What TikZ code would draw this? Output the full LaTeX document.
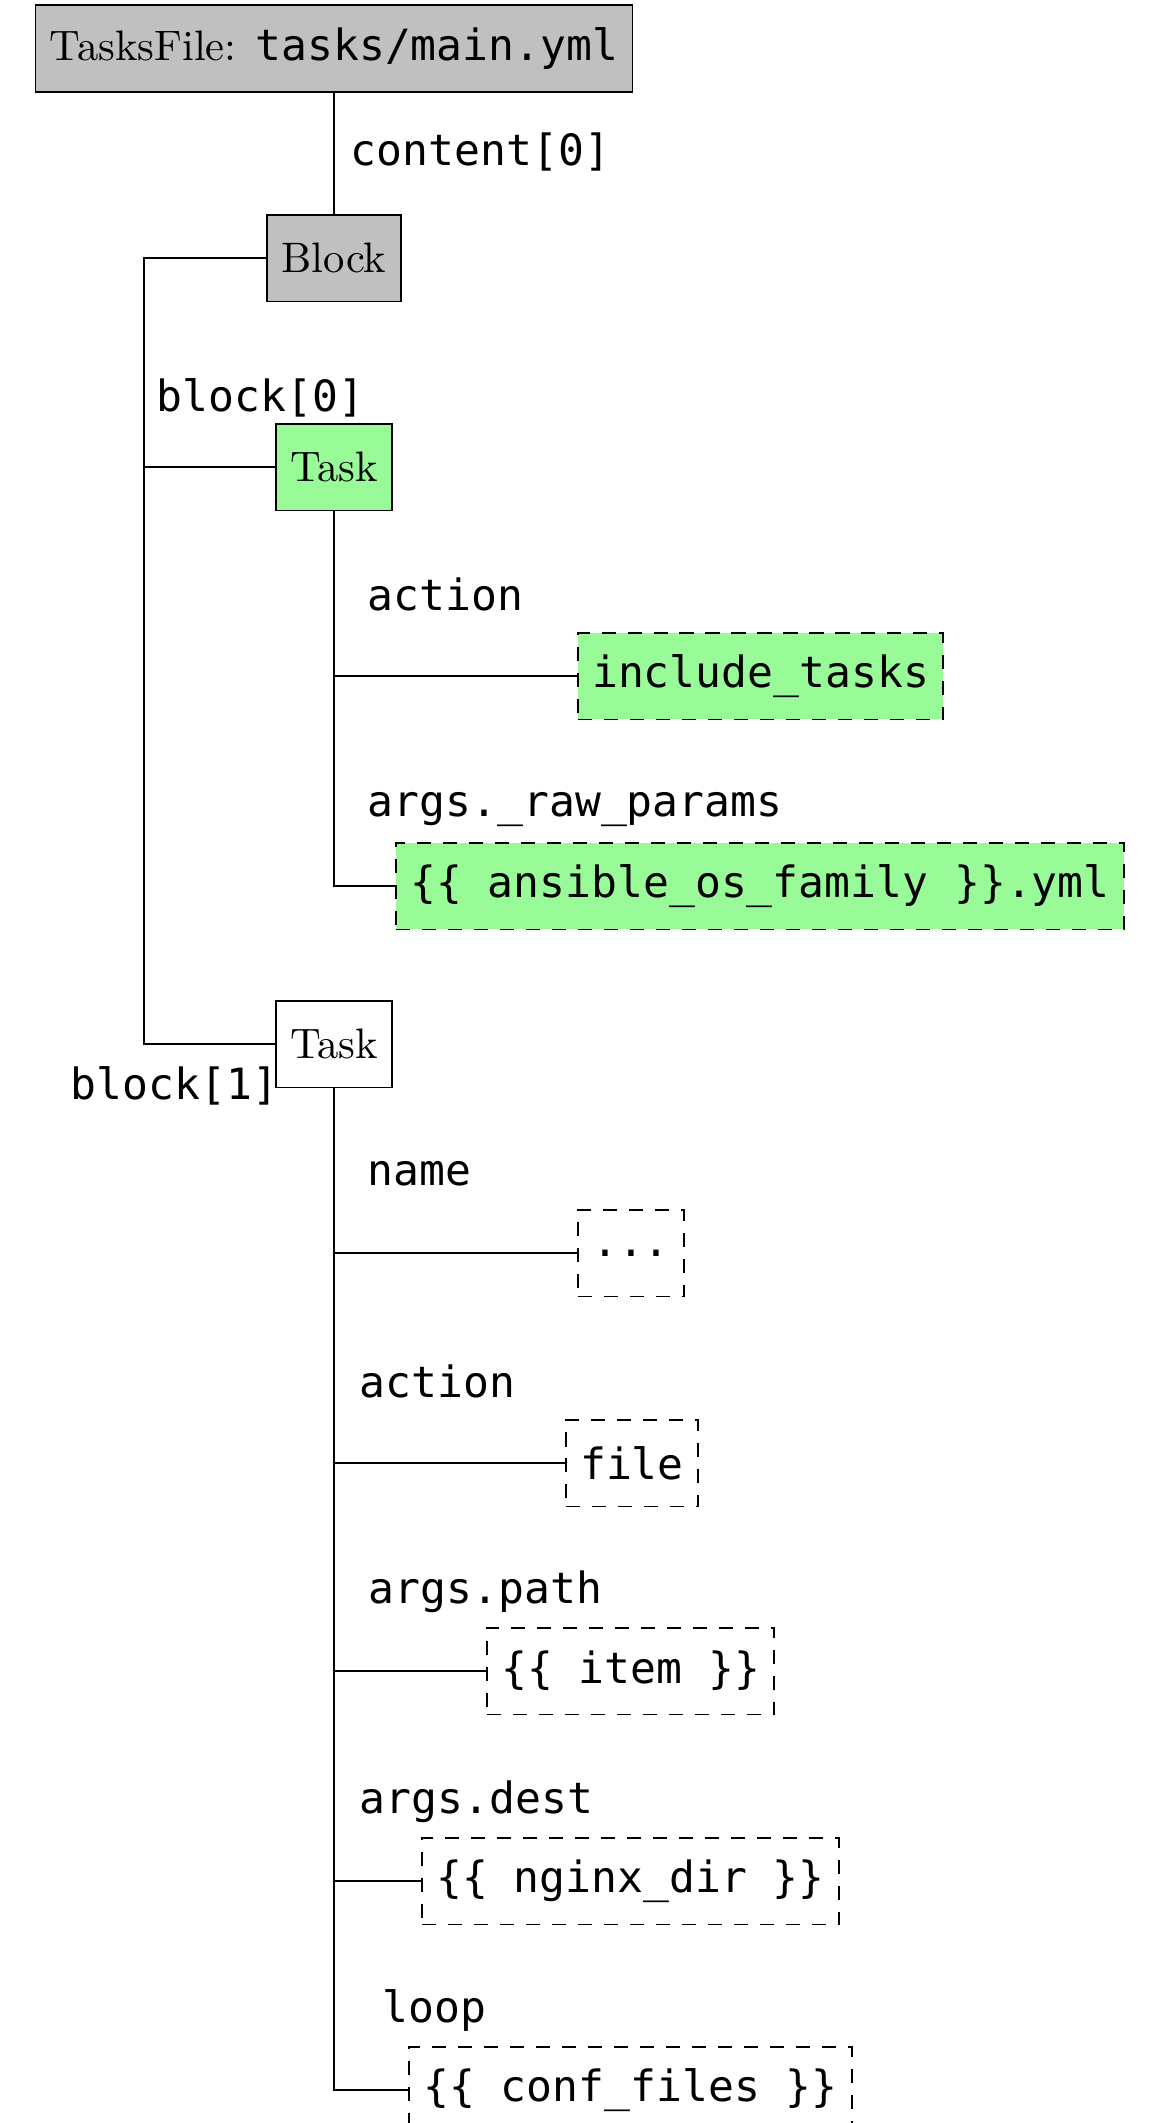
\documentclass[tikz,border=0pt]{standalone}
\usepackage{fontspec}
\setmonofont[Scale=1.01]{DejaVu Sans Mono}
\definecolor{palegreen}{RGB}{152,251,152}
\definecolor{boxgray}{RGB}{192,192,192}
\tikzset{
  box/.style={draw, line width=0.45pt, minimum height=20.4pt, inner sep=0.3333em},
  graybox/.style={box, fill=boxgray},
  greenbox/.style={box, fill=palegreen},
  plainbox/.style={box, fill=white},
  valbox/.style={box, dash pattern=on 3.3pt off 2.8pt, font=\ttfamily, anchor=west},
  greenval/.style={valbox, fill=palegreen},
  lbl/.style={anchor=base west, inner sep=0pt, font=\ttfamily},
  conn/.style={draw, line width=0.45pt}
}
\begin{document}
\begin{tikzpicture}[x=0.2347pt, y=-0.2347pt]
\clip (0,0) rectangle (1162,2123);
\useasboundingbox (0,0) rectangle (1162,2123);
\fill[white] (0,0) rectangle (1162,2123);

% nodes
\node[graybox] (tf) at (334,48.5) {TasksFile: \texttt{tasks/main.yml}};
\node[graybox] (blk) at (334,258) {Block};
\node[greenbox] (t1) at (334,467) {Task};
\node[greenval] (inc) at (577,676) {include\_tasks};
\node[greenval] (ans) at (395,886) {\{\{ ansible\_os\_family \}\}.yml};
\node[plainbox] (t2) at (334,1044) {Task};
\node[valbox] (dots) at (577,1253) {...};
\node[valbox] (file) at (565,1463) {file};
\node[valbox] (item) at (486,1671) {\{\{ item \}\}};
\node[valbox] (ngx) at (421,1881) {\{\{ nginx\_dir \}\}};
\node[valbox] (conf) at (408,2090) {\{\{ conf\_files \}\}};

% labels
\node[lbl] (l0) at (350,165) {content[0]};
\node[lbl] (l1) at (156,411) {block[0]};
\node[lbl] (l2) at (367,610) {action};
\node[lbl] (l3) at (367,816) {args.\_raw\_params};
\node[lbl] (l4) at (70,1099) {block[1]};
\node[lbl] (l5) at (367,1185) {name};
\node[lbl] (l6) at (359,1397) {action};
\node[lbl] (l7) at (368,1603) {args.path};
\node[lbl] (l8) at (359,1813) {args.dest};
\node[lbl] (l9) at (382,2022) {loop};

% connectors
\coordinate (spine) at (144,0);
\draw[conn] (tf.south) -- (blk.north);
\draw[conn] (blk.west) -| (spine |- t2.west) -- (t2.west);
\draw[conn] (spine |- t1.west) -- (t1.west);
\draw[conn] (t1.south) |- (ans.west);
\draw[conn] (t1.south |- inc.west) -- (inc.west);
\draw[conn] (t2.south) |- (conf.west);
\draw[conn] (t2.south |- dots.west) -- (dots.west);
\draw[conn] (t2.south |- file.west) -- (file.west);
\draw[conn] (t2.south |- item.west) -- (item.west);
\draw[conn] (t2.south |- ngx.west) -- (ngx.west);
\end{tikzpicture}
\end{document}
